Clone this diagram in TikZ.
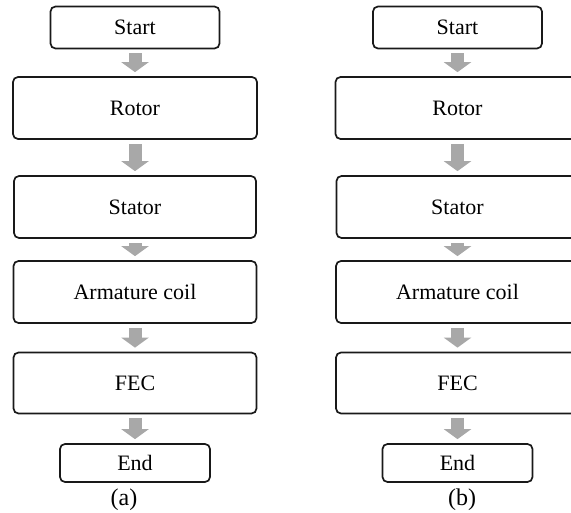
\documentclass[tikz,border=0pt]{standalone}
\usepackage{fontspec}
\setmainfont{Liberation Serif}
\usetikzlibrary{positioning, arrows.meta}

\definecolor{arrowgray}{RGB}{168,168,168}

\tikzset{
  stepbox/.style={draw=black!90, line width=1.7pt, rounded corners=5pt, inner sep=0pt,
    font=\fontsize{22}{26}\selectfont},
  flowarrow/.style={draw=arrowgray, line width=13pt, -{Triangle[width=27pt,length=10pt]},
    shorten <=4pt, shorten >=4pt},
  sublabel/.style={font=\fontsize{24}{28}\selectfont}
}

\begin{document}
\begin{tikzpicture}[x=1pt, y=-1pt]
\path[use as bounding box, clip] (0,0) rectangle (571,513);

%//two columns, same steps
\foreach \col/\xstep in {a/135, b/457.5}{
  \foreach \name/\txt/\y/\w/\h in {start/Start/27.5/169/42, rotor/Rotor/108/244/62,
      stator/Stator/207/242/62, coil/Armature coil/292/243/62,
      fec/FEC/383/243/61, end/End/463/150/38}
    \node[stepbox, minimum width=\w pt, minimum height=\h pt] (\col-\name) at (\xstep, \y) {\txt};

  \foreach \from/\to in {start/rotor, rotor/stator, stator/coil, coil/fec, fec/end}
    \draw[flowarrow] (\col-\from.south) -- (\col-\to.north);
}

\node[sublabel] (label-a) at (124, 500) {(a)};
\node[sublabel] (label-b) at (462, 500) {(b)};
\end{tikzpicture}
\end{document}
